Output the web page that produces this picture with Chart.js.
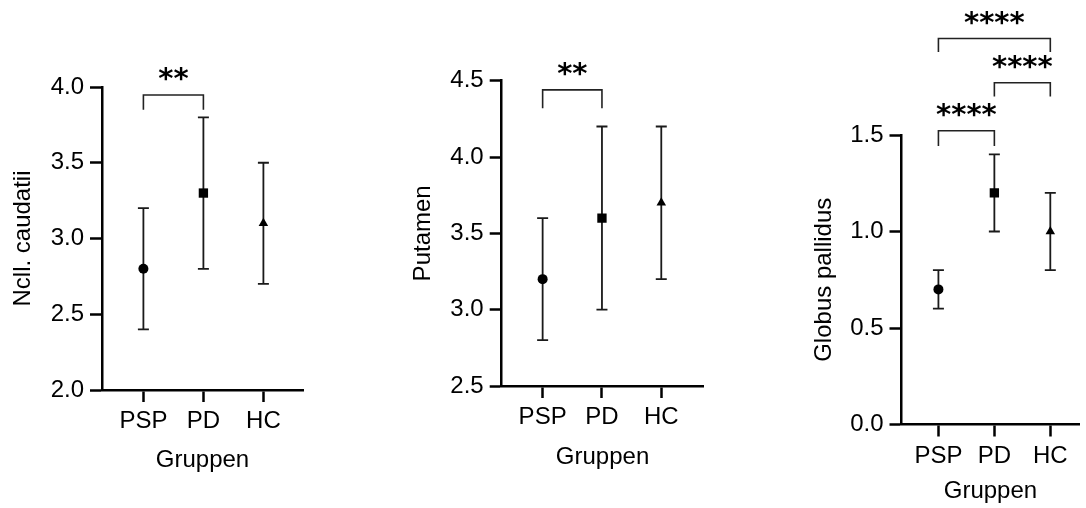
<!DOCTYPE html>
<html>
<head>
<meta charset="utf-8">
<script src="https://cdn.jsdelivr.net/npm/chart.js@4"></script>
<style>
  html, body { margin: 0; padding: 0; background: #fff; overflow: hidden; }
  body { width: 1086px; height: 508px; position: relative; }
  canvas { position: absolute; top: 0; }
</style>
</head>
<body>
<canvas id="caudChart" width="330" height="508" style="left:0px"></canvas>
<canvas id="putChart" width="310" height="508" style="left:400px"></canvas>
<canvas id="gpChart" width="286" height="508" style="left:800px"></canvas>
<script>
// groups on the x axis
const groups = ['PSP', 'PD', 'HC'];
const markers = ['circle', 'rect', 'triangle'];
const markerSizes = [5, 6.6, 5.5];

// Ncll. caudatii
const caudMean = [2.8, 3.3, 3.1];
const caudLow = [2.4, 2.8, 2.7];
const caudHigh = [3.2, 3.8, 3.5];
const caudTicks = [2.0, 2.5, 3.0, 3.5, 4.0];
// [from, to, bracket y, leg end y, label]
const caudSig = [[0, 1, 3.947, 3.85, '**']];

// Putamen
const putMean = [3.2, 3.6, 3.7];
const putLow = [2.8, 3.0, 3.2];
const putHigh = [3.6, 4.2, 4.2];
const putTicks = [2.5, 3.0, 3.5, 4.0, 4.5];
const putSig = [[0, 1, 4.44, 4.32, '**']];

// Globus pallidus
const gpMean = [0.7, 1.2, 1.0];
const gpLow = [0.6, 1.0, 0.8];
const gpHigh = [0.8, 1.4, 1.2];
const gpTicks = [0.0, 0.5, 1.0, 1.5];
const gpSig = [[0, 2, 2.0, 1.93, '****'], [1, 2, 1.771, 1.699, '****'], [0, 1, 1.522, 1.443, '****']];

Chart.defaults.font.family = '"Liberation Sans", Arial, sans-serif';
Chart.defaults.color = '#000';

// error bars + significance brackets
const errorBarPlugin = {
    id: 'errorBars',
    beforeDatasetsDraw(chart) {
        const p = chart.options.plugins.errorBars;
        const {ctx, scales: {x, y}} = chart;
        ctx.save();
        ctx.strokeStyle = '#1a1a1a';
        ctx.lineWidth = 1.8;
        p.low.forEach((lo, i) => {
            const px = x.getPixelForValue(i);
            const yl = y.getPixelForValue(lo);
            const yh = y.getPixelForValue(p.high[i]);
            ctx.beginPath();
            ctx.moveTo(px, yl); ctx.lineTo(px, yh);
            ctx.moveTo(px - 5.5, yl); ctx.lineTo(px + 5.5, yl);
            ctx.moveTo(px - 5.5, yh); ctx.lineTo(px + 5.5, yh);
            ctx.stroke();
        });
        ctx.restore();
    },
    afterDraw(chart) {
        const p = chart.options.plugins.errorBars;
        const {ctx, scales: {x, y}} = chart;
        ctx.save();
        ctx.strokeStyle = '#222';
        ctx.lineWidth = 1.6;
        ctx.fillStyle = '#000';
        ctx.font = 'bold 29px "DejaVu Sans"';
        ctx.textAlign = 'center';
        ctx.textBaseline = 'alphabetic';
        p.sig.forEach(s => {
            const x1 = x.getPixelForValue(s[0]);
            const x2 = x.getPixelForValue(s[1]);
            const yTop = y.getPixelForValue(s[2]);
            const yEnd = y.getPixelForValue(s[3]);
            ctx.beginPath();
            ctx.moveTo(x1, yEnd); ctx.lineTo(x1, yTop);
            ctx.lineTo(x2, yTop); ctx.lineTo(x2, yEnd);
            ctx.stroke();
            ctx.fillText(s[4], (x1 + x2) / 2, yTop - 7);
        });
        ctx.restore();
    }
};

function makePanel(id, cfg) {
    const ctx = document.getElementById(id);
    const tickFont = {size: 24};
    new Chart(ctx, {
        type: 'scatter',
        data: {
            datasets: [{
                data: cfg.mean.map((m, i) => ({x: i, y: m})),
                pointStyle: markers,
                pointRadius: markerSizes,
                backgroundColor: '#000',
                borderColor: '#000',
                borderWidth: 0
            }]
        },
        options: {
            responsive: false,
            animation: false,
            layout: {padding: {top: cfg.top, right: cfg.right, left: 0, bottom: 0}},
            plugins: {
                legend: {display: false},
                tooltip: {enabled: false},
                errorBars: {low: cfg.low, high: cfg.high, sig: cfg.sig}
            },
            scales: {
                x: {
                    type: 'linear',
                    min: cfg.xMin,
                    max: cfg.xMax,
                    afterBuildTicks: s => { s.ticks = groups.map((g, i) => ({value: i})); },
                    afterFit: s => { s.height = cfg.xH; s.paddingLeft = 0; s.paddingRight = 0; },
                    ticks: {
                        font: tickFont,
                        padding: 5,
                        maxRotation: 0,
                        callback: v => groups[v]
                    },
                    grid: {drawOnChartArea: false, tickLength: 12, tickWidth: 2.5, tickColor: '#000'},
                    border: {color: '#000', width: 2.5},
                    title: {display: true, text: 'Gruppen', font: {size: 24}, padding: {top: 0, bottom: cfg.xTitlePad}}
                },
                y: {
                    min: cfg.yTicks[0],
                    max: cfg.yTicks[cfg.yTicks.length - 1],
                    afterBuildTicks: s => { s.ticks = cfg.yTicks.map(v => ({value: v})); },
                    afterFit: s => { s.width = cfg.yW; s.paddingTop = 0; s.paddingBottom = 0; },
                    ticks: {
                        font: tickFont,
                        padding: 6,
                        callback: v => v.toFixed(1)
                    },
                    grid: {drawOnChartArea: false, tickLength: 12, tickWidth: 2.5, tickColor: '#000'},
                    border: {color: '#000', width: 2.5},
                    title: {display: true, text: cfg.title, font: {size: 24}, padding: {top: cfg.yTitlePad, bottom: 0}}
                }
            }
        },
        plugins: [errorBarPlugin]
    });
}

makePanel('caudChart', {
    mean: caudMean, low: caudLow, high: caudHigh, sig: caudSig, yTicks: caudTicks,
    title: 'Ncll. caudatii', top: 87, right: 27, xH: 118, yW: 102,
    xMin: -0.69, xMax: 2.66, xTitlePad: 33, yTitlePad: 9
});
makePanel('putChart', {
    mean: putMean, low: putLow, high: putHigh, sig: putSig, yTicks: putTicks,
    title: 'Putamen', top: 80.7, right: 4.3, xH: 122, yW: 101.7,
    xMin: -0.69, xMax: 2.71, xTitlePad: 36.6, yTitlePad: 9
});
makePanel('gpChart', {
    mean: gpMean, low: gpLow, high: gpHigh, sig: gpSig, yTicks: gpTicks,
    title: 'Globus pallidus', top: 135, right: 0, xH: 83.5, yW: 101.5,
    xMin: -0.66, xMax: 2.52, xTitlePad: 2.6, yTitlePad: 10.3
});
</script>
</body>
</html>
